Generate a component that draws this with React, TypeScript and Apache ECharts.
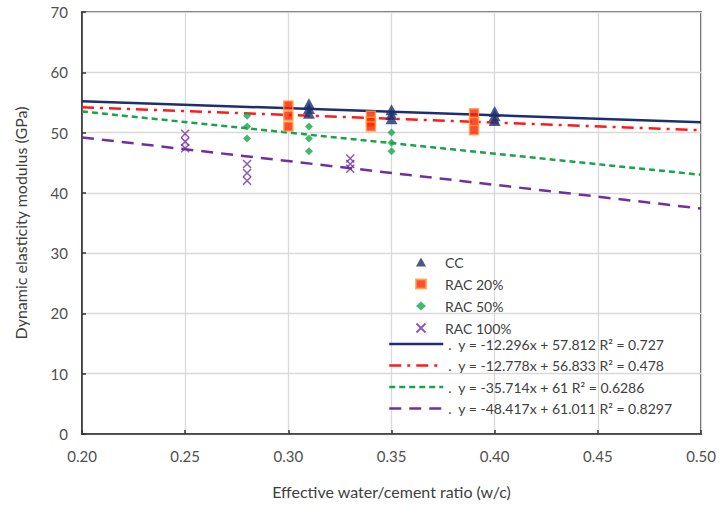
import React, { useEffect, useRef } from "react";
import * as echarts from "echarts";

// Scatter data [w/c, modulus GPa]
const ccData: number[][] = [
  [0.31, 54.8], [0.31, 54.0], [0.31, 53.2],
  [0.35, 53.8], [0.35, 53.0], [0.35, 52.3],
  [0.40, 53.5], [0.40, 52.8], [0.40, 52.0],
];
const rac20Data: number[][] = [
  [0.30, 54.5], [0.30, 52.8], [0.30, 51.0],
  [0.34, 52.8], [0.34, 51.8], [0.34, 51.0],
  [0.39, 53.2], [0.39, 51.7], [0.39, 50.4],
];
const rac50Data: number[][] = [
  [0.28, 52.8], [0.28, 51.0], [0.28, 49.0],
  [0.31, 51.0], [0.31, 49.0], [0.31, 46.9],
  [0.35, 50.0], [0.35, 48.3], [0.35, 46.9],
];
const rac100Data: number[][] = [
  [0.25, 49.8], [0.25, 48.5], [0.25, 47.4],
  [0.28, 44.8], [0.28, 43.3], [0.28, 42.0],
  [0.33, 45.7], [0.33, 44.8], [0.33, 44.0],
];

// Trend line end points
const ccTrend: number[][] = [[0.2, 55.2], [0.5, 51.7]];
const rac20Trend: number[][] = [[0.2, 54.2], [0.5, 50.4]];
const rac50Trend: number[][] = [[0.2, 53.5], [0.5, 43.0]];
const rac100Trend: number[][] = [[0.2, 49.2], [0.5, 37.4]];

const scatterNames = ["CC", "RAC 20%", "RAC 50%", "RAC 100%"];
const trendNames = [
  "y = -12.296x + 57.812 R² = 0.727",
  "y = -12.778x + 56.833 R² = 0.478",
  "y = -35.714x + 61 R² = 0.6286",
  "y = -48.417x + 61.011 R² = 0.8297",
];

const FONT = "Lato, 'Noto Sans', sans-serif";
const NAVY = "#1c2f6e";
const RED = "#ff1a1a";
const GREEN = "#1aa34a";
const PURPLE = "#7030a0";
const XPATH = "path://M0 0L10 10M10 0L0 10";

export default function App() {
  const ref = useRef<HTMLDivElement>(null);
  useEffect(() => {
    if (!ref.current) return;
    const chart = echarts.init(ref.current, undefined, { renderer: "svg" });
    const hide = { opacity: 0, color: "rgba(0,0,0,0)", borderWidth: 0 };
    const option: any = {
      animation: false,
      backgroundColor: "#ffffff",
      textStyle: { fontFamily: FONT },
      grid: {
        left: 82, right: 19, top: 12, bottom: 71,
        show: true, borderColor: "#333", borderWidth: 1.5,
      },
      xAxis: {
        type: "value", min: 0.2, max: 0.5, interval: 0.05,
        name: "Effective water/cement ratio (w/c)",
        nameLocation: "middle", nameGap: 49,
        nameTextStyle: { fontSize: 16, color: "#404040", fontFamily: FONT },
        axisLine: { show: true, onZero: false, lineStyle: { color: "#333", width: 1.5 } },
        axisTick: { show: true, inside: true, length: 4, lineStyle: { color: "#333", width: 1.5 } },
        axisLabel: { fontSize: 15, color: "#505050", margin: 14, formatter: (v: number) => v.toFixed(2), fontFamily: FONT },
        splitLine: { show: true, lineStyle: { color: "#d9d9d9", width: 1.3 } },
      },
      yAxis: {
        type: "value", min: 0, max: 70, interval: 10,
        name: "Dynamic elasticity modulus (GPa)",
        nameLocation: "middle", nameGap: 54,
        nameTextStyle: { fontSize: 16, color: "#404040", fontFamily: FONT },
        axisLine: { show: true, lineStyle: { color: "#333", width: 1.5 } },
        axisTick: { show: true, inside: true, length: 4, lineStyle: { color: "#333", width: 1.5 } },
        axisLabel: { fontSize: 15, color: "#505050", margin: 14, fontFamily: FONT },
        splitLine: { show: true, lineStyle: { color: "#d9d9d9", width: 1.3 } },
      },
      legend: [
        {
          orient: "vertical", left: 409, top: 250,
          itemWidth: 10, itemHeight: 9, itemGap: 8,
          textStyle: { fontSize: 14, color: "#404040", fontFamily: FONT, padding: [0, 0, 0, 14] },
          data: scatterNames,
        },
        {
          orient: "vertical", left: 383, top: 332,
          itemWidth: 54, itemHeight: 12, itemGap: 7.5,
          textStyle: { fontSize: 14, color: "#404040", fontFamily: FONT },
          formatter: (n: string) => ".  " + n,
          data: [
            { name: trendNames[0], itemStyle: hide, lineStyle: { type: "solid", width: 2.5 } },
            { name: trendNames[1], itemStyle: hide, lineStyle: { type: [12, 6, 3, 6], width: 2.5 } },
            { name: trendNames[2], itemStyle: hide, lineStyle: { type: [6, 4], width: 2.5 } },
            { name: trendNames[3], itemStyle: hide, lineStyle: { type: [12, 8], width: 2.5 } },
          ],
        },
      ],
      series: [
        {
          name: trendNames[0], type: "line", data: ccTrend, symbol: "none",
          lineStyle: { color: NAVY, width: 2.5, type: "solid" }, itemStyle: { color: NAVY }, z: 3,
        },
        {
          name: trendNames[1], type: "line", data: rac20Trend, symbol: "none",
          lineStyle: { color: RED, width: 2.5, type: [12, 6, 3, 6] }, itemStyle: { color: RED }, z: 3,
        },
        {
          name: trendNames[2], type: "line", data: rac50Trend, symbol: "none",
          lineStyle: { color: GREEN, width: 2.5, type: [6, 4] }, itemStyle: { color: GREEN }, z: 3,
        },
        {
          name: trendNames[3], type: "line", data: rac100Trend, symbol: "none",
          lineStyle: { color: PURPLE, width: 2.5, type: [12, 8] }, itemStyle: { color: PURPLE }, z: 3,
        },
        {
          name: scatterNames[0], type: "scatter", data: ccData, symbol: "triangle", symbolSize: [12, 11],
          itemStyle: { color: NAVY }, z: 4,
        },
        {
          name: scatterNames[1], type: "scatter", data: rac20Data, symbol: "rect", symbolSize: 9,
          itemStyle: { color: "#ff2000", borderColor: "#ffa040", borderWidth: 1.5 }, z: 4,
        },
        {
          name: scatterNames[2], type: "scatter", data: rac50Data, symbol: "diamond", symbolSize: 8,
          itemStyle: { color: "#14a84a" }, z: 4,
        },
        {
          name: scatterNames[3], type: "scatter", data: rac100Data, symbol: XPATH, symbolSize: 8,
          itemStyle: { color: "none", borderColor: PURPLE, borderWidth: 1.5 }, z: 4,
        },
      ],
    };
    chart.setOption(option);
    return () => chart.dispose();
  }, []);
  return <div ref={ref} style={{ width: 720, height: 505, position: "absolute", left: 0, top: 0 }} />;
}
